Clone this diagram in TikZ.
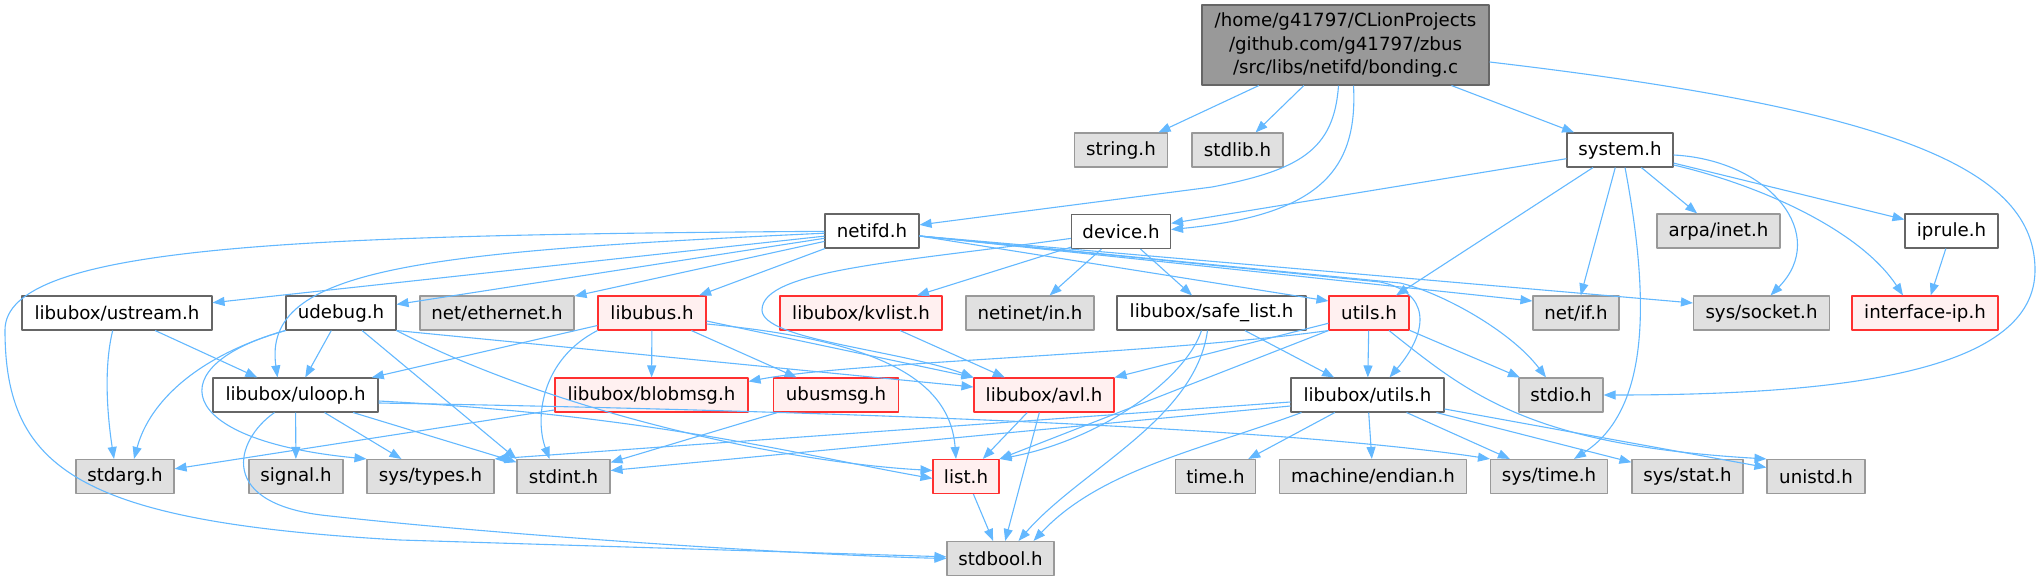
\documentclass[tikz,border=0pt]{standalone}
\usepackage{fontspec}
\setmainfont{DejaVu Sans}
\usetikzlibrary{arrows.meta}
\definecolor{edgeblue}{HTML}{63B8FF}
\definecolor{redfill}{HTML}{FFF0F0}
\definecolor{sysfill}{HTML}{E0E0E0}
\definecolor{redline}{HTML}{FF3030}
\begin{document}
\begin{tikzpicture}[x=1pt,y=-1pt,line join=round,
    file/.style={draw=black!60, fill=white, line width=1.1pt, minimum height=34pt,
      inner sep=0pt, font=\fontsize{18.2}{22}\selectfont},
    sysfile/.style={file, draw=black!40, fill=sysfill},
    redfile/.style={file, draw=redline, fill=redfill},
    dep/.style={draw=edgeblue, line width=1.1pt, -{Triangle[length=12pt,width=9pt]}}]
    \useasboundingbox (0,0) rectangle (2041,580);

    % top file
    \node[file, fill=black!40, draw=black!60, minimum width=287pt, minimum height=80pt,
      align=center, font=\fontsize{18.2}{23.3}\selectfont] (main) at (1345.5,45)
      {/home/g41797/CLionProjects\\/github.com/g41797/zbus\\/src/libs/netifd/bonding.c};

    % row 1
    \node[sysfile, minimum width=93pt]  (string) at (1121,150)   {string.h};
    \node[sysfile, minimum width=91pt]  (stdlib) at (1237.5,150) {stdlib.h};
    \node[file, minimum width=106pt]    (system) at (1620,150)   {system.h};
    % row 2
    \node[file, minimum width=94pt]     (netifd)   at (872,231)    {netifd.h};
    \node[file, minimum width=99pt]     (device)   at (1121,231.5) {device.h};
    \node[sysfile, minimum width=123pt] (arpainet) at (1718.5,231) {arpa/inet.h};
    \node[file, minimum width=93pt]     (iprule)   at (1951.5,231) {iprule.h};
    % row 3
    \node[file, minimum width=190pt]    (ustream)   at (117,313)    {libubox/ustream.h};
    \node[file, minimum width=110pt]    (udebug)    at (341,313)    {udebug.h};
    \node[sysfile, minimum width=154pt] (netether)  at (497,313)    {net/ethernet.h};
    \node[redfile, minimum width=108pt] (libubus)   at (652,313)    {libubus.h};
    \node[redfile, minimum width=162pt] (kvlist)    at (861,313)    {libubox/kvlist.h};
    \node[sysfile, minimum width=128pt] (netinet)   at (1030,313)   {netinet/in.h};
    \node[file, minimum width=189pt]    (safelist)  at (1211.5,313) {libubox/safe\_list.h};
    \node[redfile, minimum width=80pt]  (utils)     at (1369,313)   {utils.h};
    \node[sysfile, minimum width=86pt]  (netif)     at (1576,313)   {net/if.h};
    \node[sysfile, minimum width=136pt] (syssocket) at (1761.5,313) {sys/socket.h};
    \node[redfile, minimum width=146pt] (ifaceip)   at (1925,313)   {interface-ip.h};
    % row 4
    \node[file, minimum width=165pt]    (uloop)   at (295.5,395)  {libubox/uloop.h};
    \node[redfile, minimum width=193pt] (blobmsg) at (651.5,395)  {libubox/blobmsg.h};
    \node[redfile, minimum width=125pt] (ubusmsg) at (836,395)    {ubusmsg.h};
    \node[redfile, minimum width=140pt] (avl)     at (1044,395)   {libubox/avl.h};
    \node[file, minimum width=153pt]    (luutils) at (1367.5,395) {libubox/utils.h};
    \node[sysfile, minimum width=84pt]  (stdio)   at (1561,395)   {stdio.h};
    % row 5
    \node[sysfile, minimum width=98pt]  (stdarg)   at (125,476.5)  {stdarg.h};
    \node[sysfile, minimum width=94pt]  (signal)   at (296,476.5)  {signal.h};
    \node[sysfile, minimum width=127pt] (systypes) at (430.5,476.5) {sys/types.h};
    \node[sysfile, minimum width=93pt]  (stdint)   at (563.5,476.5) {stdint.h};
    \node[redfile, minimum width=66pt]  (list)     at (966,476.5)  {list.h};
    \node[sysfile, minimum width=80pt]  (timeh)    at (1215.5,476.5) {time.h};
    \node[sysfile, minimum width=187pt] (endian)   at (1373,476.5) {machine/endian.h};
    \node[sysfile, minimum width=117pt] (systime)  at (1549,476.5) {sys/time.h};
    \node[sysfile, minimum width=111pt] (sysstat)  at (1687.5,476.5) {sys/stat.h};
    \node[sysfile, minimum width=98pt]  (unistd)   at (1816,476.5) {unistd.h};
    % row 6
    \node[sysfile, minimum width=107pt] (stdbool)  at (1000.5,558.5) {stdbool.h};

    % bonding.c
    \draw[dep] (main) -- (string);
    \draw[dep] (main) -- (stdlib);
    \draw[dep] (main) -- (system);
    \draw[dep] ([xshift=-7pt]main.south) .. controls (1334,150) and (1300,170) .. (1212,187) -- (netifd);
    \draw[dep] ([xshift=8pt]main.south) .. controls (1358,170) and (1320,215) .. ([yshift=2pt]device.east);
    \draw[dep] ([yshift=-17pt]main.east) .. controls (1900,110) and (2035,170) .. (2035,270)
      .. controls (2035,370) and (1850,395) .. (stdio.east);

    % system.h
    \draw[dep] (system) -- (device);
    \draw[dep] (system) -- (utils);
    \draw[dep] (system) -- (netif);
    \draw[dep] ([xshift=5pt]system.south) .. controls (1650,300) and (1650,410) .. ([xshift=25pt]systime.north);
    \draw[dep] (system) -- (arpainet);
    \draw[dep] (system) -- (iprule);
    \draw[dep] ([yshift=-5pt]system.east) .. controls (1770,160) and (1830,235) .. ([xshift=9pt]syssocket.north);
    \draw[dep] ([yshift=-15pt]system.east) .. controls (1760,185) and (1860,230) .. ([xshift=-22pt]ifaceip.north);
    \draw[dep] (iprule) -- (ifaceip);

    % netifd.h
    \draw[dep] (netifd) -- (ustream);
    \draw[dep] (netifd) -- (udebug);
    \draw[dep] (netifd) -- (netether);
    \draw[dep] (netifd) -- (libubus);
    \draw[dep] (netifd) .. controls (420,252) and (262,268) .. ([xshift=-18pt]uloop.north);
    \draw[dep] (netifd) .. controls (300,235) and (5,245) .. (5,330)
      .. controls (5,470) and (80,522) .. (400,540) -- (stdbool);
    \draw[dep] ([yshift=-5pt]netifd.east) -- ([yshift=12pt]utils.west);
    \draw[dep] ([yshift=-5pt]netifd.east) -- ([yshift=12pt]netif.west);
    \draw[dep] ([yshift=-5pt]netifd.east) -- ([yshift=10pt]syssocket.west);
    \draw[dep] ([yshift=-5pt]netifd.east) -- (1400,283) .. controls (1440,292) and (1510,330) .. ([xshift=-15pt]stdio.north);
    \draw[dep] ([yshift=-5pt]netifd.east) -- (1380,282) .. controls (1430,292) and (1430,330) .. ([xshift=22pt]luutils.north);

    % device.h
    \draw[dep] (device) -- (kvlist);
    \draw[dep] (device) -- (netinet);
    \draw[dep] (device) -- (safelist);
    \draw[dep] (device) .. controls (900,262) and (762,270) .. (762,310)
      .. controls (762,340) and (900,350) .. (avl.north west);

    % udebug.h
    \draw[dep] (udebug) -- (uloop);
    \draw[dep] (udebug.south west) .. controls (200,355) and (150,400) .. ([xshift=9pt]stdarg.north);
    \draw[dep] (udebug.south west) .. controls (160,365) and (170,440) .. (systypes.north west);
    \draw[dep] (udebug) -- (stdint.north west);
    \draw[dep] (udebug.south east) .. controls (550,410) and (780,462) .. ([yshift=6pt]list.west);
    \draw[dep] (udebug.south east) -- ([yshift=8pt]avl.west);

    % libubus.h
    \draw[dep] (libubus) -- (uloop);
    \draw[dep] (libubus) -- (blobmsg);
    \draw[dep] (libubus) -- (ubusmsg);
    \draw[dep] ([yshift=-8pt]libubus.east) -- (avl.north west);
    \draw[dep] ([yshift=-11pt]libubus.east) .. controls (880,340) and (950,380) .. ([xshift=-10pt]list.north);
    \draw[dep] (libubus.south west) .. controls (540,360) and (535,420) .. ([xshift=-14pt]stdint.north);

    % libubox/uloop.h
    \draw[dep] (uloop) -- (signal);
    \draw[dep] (uloop) -- (systypes);
    \draw[dep] (uloop) -- (stdint);
    \draw[dep] ([xshift=-21pt]uloop.south) .. controls (235,440) and (215,505) .. (330,516)
      .. controls (500,535) and (800,555) .. (stdbool.west);
    \draw[dep] ([yshift=-6pt]uloop.east) .. controls (650,415) and (800,455) .. ([yshift=-2pt]list.west);
    \draw[dep] ([yshift=-8pt]uloop.east) .. controls (900,412) and (1300,430) .. (systime.north west);

    % libubox/ustream.h
    \draw[dep] (ustream) .. controls (103,370) and (108,420) .. ([xshift=-11pt]stdarg.north);
    \draw[dep] (ustream) -- (uloop);

    \draw[dep] (blobmsg) -- (stdarg);
    \draw[dep] (ubusmsg) -- (stdint);
    \draw[dep] (kvlist) -- (avl);

    % libubox/safe_list.h
    \draw[dep] ([xshift=-10pt]safelist.south) .. controls (1185,380) and (1100,440) .. (list.north east);
    \draw[dep] ([xshift=-4pt]safelist.south) .. controls (1195,420) and (1080,470) .. ([xshift=18pt]stdbool.north);
    \draw[dep] (safelist) -- (luutils);

    % utils.h
    \draw[dep] (utils) -- (luutils);
    \draw[dep] (utils) -- (stdio);
    \draw[dep] ([xshift=20pt]utils.south) .. controls (1470,395) and (1530,445) .. (unistd.north west);
    \draw[dep] (utils) -- (avl.north east);
    \draw[dep] (utils.south west) .. controls (1150,355) and (850,362) .. ([yshift=-4pt]blobmsg.north east);
    \draw[dep] (utils.south west) -- (list.north east);

    % libubox/avl.h, list.h
    \draw[dep] (avl) -- (list);
    \draw[dep] (avl) -- (stdbool);
    \draw[dep] (list) -- (stdbool);

    % libubox/utils.h
    \draw[dep] ([yshift=-7pt]luutils.west) -- (systypes.north east);
    \draw[dep] ([yshift=-11pt]luutils.west) -- ([yshift=6pt]stdint.east);
    \draw[dep] ([xshift=-66pt]luutils.south) .. controls (1200,450) and (1100,470) .. ([xshift=33pt]stdbool.north);
    \draw[dep] (luutils) -- (timeh);
    \draw[dep] (luutils) -- (endian);
    \draw[dep] (luutils) -- (systime);
    \draw[dep] (luutils) -- (sysstat);
    \draw[dep] (luutils) -- (unistd);
\end{tikzpicture}
\end{document}
